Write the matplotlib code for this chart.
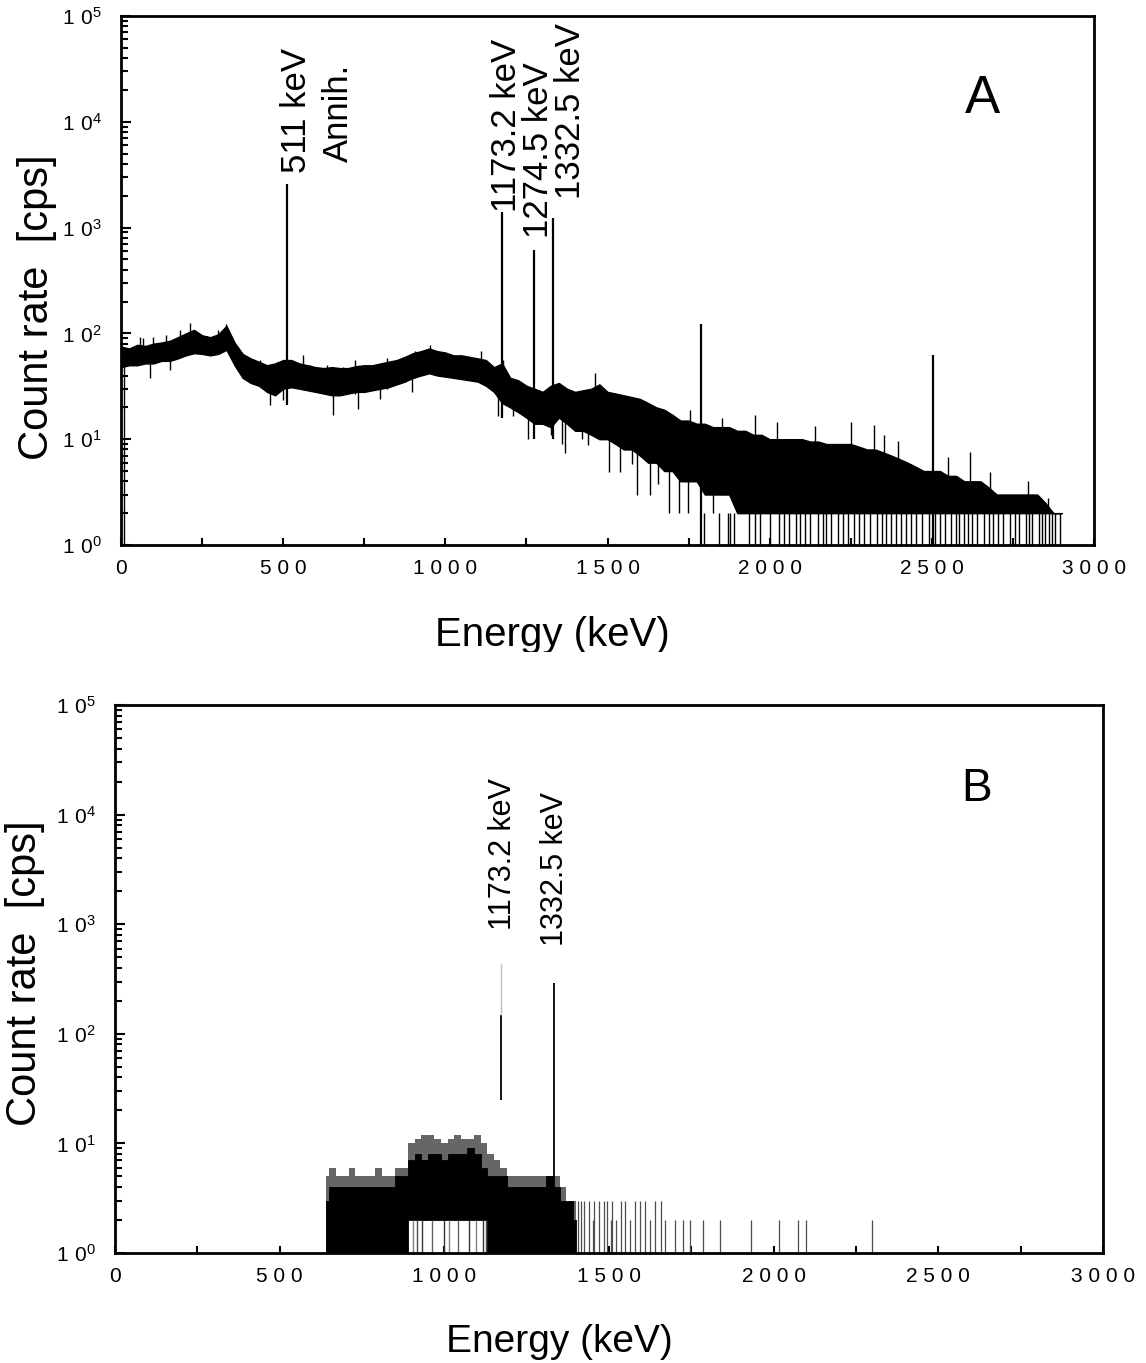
import numpy as np
import matplotlib.pyplot as plt
from matplotlib.transforms import Bbox, TransformedBbox
from matplotlib.ticker import LogLocator, NullFormatter

plt.rcParams['font.family'] = ['Liberation Sans', 'DejaVu Sans']
plt.rcParams['mathtext.fontset'] = 'custom'
plt.rcParams['mathtext.rm'] = 'Liberation Sans'

# ---- panel A : spectrum band (read every 25 keV) ----
A_energy = np.arange(0, 2901, 25)
A_upper = [75, 72, 78, 76, 80, 82, 85, 92, 100, 108, 96, 92, 98, 118, 82, 64,
           58, 54, 50, 52, 56, 56, 52, 50, 48, 47, 48, 47, 47, 49, 50, 50,
           52, 54, 56, 60, 65, 68, 72, 68, 66, 62, 62, 60, 58, 56, 48, 52,
           38, 36, 32, 30, 28, 32, 34, 30, 28, 29, 30, 33, 28, 27, 26, 25,
           24, 22, 20, 19, 17, 15, 15, 14, 14, 13, 13, 13, 12, 12, 11, 11,
           10, 10, 10, 10, 10, 9.5, 9.5, 9, 9, 9, 9, 8.5, 8, 8, 7.5, 7,
           6.5, 6, 5.5, 5, 5, 5, 4.5, 4.5, 4, 4, 4, 3.5, 3, 3, 3, 3,
           3, 3, 2.5, 2, 2]
A_lower = [48, 50, 50, 52, 52, 55, 55, 58, 62, 65, 64, 62, 64, 70, 50, 38,
           34, 32, 28, 26, 30, 31, 30, 29, 28, 27, 26, 26, 27, 28, 28, 29,
           30, 31, 33, 35, 38, 40, 42, 40, 39, 38, 37, 36, 35, 32, 28, 22,
           20, 18, 16, 14, 14, 13, 16, 14, 12, 12, 11, 10, 10, 9, 8, 8,
           7, 6, 6, 5, 5, 4, 4, 4, 3, 3, 3, 3, 2, 2, 2, 2,
           2, 2, 2, 2, 2, 2, 2, 2, 2, 2, 2, 2, 2, 2, 2, 2,
           2, 2, 2, 2, 2, 2, 2, 2, 2, 2, 2, 2, 2, 2, 2, 2,
           2, 2, 2, 2, 2]

# gamma lines in A (energy, bottom, top)
A_peak_E = [511, 1173.2, 1274.5, 1332.5, 1787, 2505]
A_peak_low = [21, 16, 10, 10, 1, 1]
A_peak_top = [2600, 1400, 610, 1220, 124, 63]

# single channels sticking out above the band
A_spike_E = [60, 69, 100, 140, 182, 213, 264, 300, 324, 377, 429, 480, 526,
             560, 583, 634, 686, 720, 747, 819, 907, 953, 1045, 1097, 1110,
             1179, 1462, 1509, 1615, 1696, 1755, 1854, 1954, 2024, 2141, 2252,
             2322, 2351, 2395, 2550, 2618, 2679, 2796, 2858]
A_spike_base = [55, 55, 55, 60, 65, 70, 65, 70, 75, 40, 32, 30, 31,
                30, 30, 27, 26, 27, 28, 30, 38, 42, 38, 36, 35,
                25, 12, 10, 7, 5, 4, 3, 2, 2, 2, 2,
                2, 2, 2, 2, 2, 2, 2, 2]
A_spike_top = [92, 90, 93, 96, 108, 126, 94, 108, 124, 62.5, 56, 54, 54,
               62, 50, 50, 48, 56, 50, 58, 68.6, 78, 62.5, 58, 68,
               56, 42, 28, 23, 17, 19, 16, 17, 14.5, 13.4, 14.5,
               13.5, 10.9, 9.6, 6.8, 7.5, 4.9, 4, 2.8]

# single channels dropping below the band
A_dip_E = [8, 90, 151, 459, 500, 653, 732, 800, 896, 1163, 1210, 1255, 1272,
           1325, 1360, 1369, 1420, 1439, 1504, 1539, 1574, 1590, 1632, 1656,
           1690, 1720, 1749, 1825]
A_dip_low = [1, 38, 45, 21, 23.5, 17, 19.5, 24, 28, 16.5, 16.5, 10, 15,
             11, 9, 7.4, 10, 8.8, 4.9, 4.9, 5.8, 3, 3, 3.8,
             2, 2, 2, 2]
A_dip_top = [50, 52, 56, 30, 32, 30, 30, 32, 38, 30, 22, 20, 20,
             20, 20, 15, 15, 15, 12, 10, 10, 8, 8, 8,
             6, 6, 5, 4]

# channels with zero counts in the tail (drawn down to the axis)
A_zero_E = [1796, 1845, 1870, 1878, 1890, 1936, 1955, 1971, 2000, 2030, 2045,
            2060, 2080, 2095, 2110, 2125, 2150, 2165, 2175, 2190, 2210, 2225,
            2240, 2260, 2275, 2290, 2310, 2330, 2345, 2360, 2375, 2390, 2405,
            2420, 2435, 2450, 2470, 2490, 2510, 2525, 2540, 2560, 2575, 2585,
            2600, 2610, 2625, 2640, 2660, 2675, 2690, 2705, 2720, 2740, 2755,
            2770, 2790, 2800, 2810, 2830, 2840, 2850, 2860, 2870, 2880, 2895]

# ---- panel B : coincidence spectrum (read every 20 keV) ----
B_energy = np.arange(640, 1401, 20)
B_core = [3, 4, 4, 4, 4, 4, 4, 4, 4, 4, 4, 5, 5, 7, 8, 7, 8, 8, 7, 8,
          8, 8, 9, 8, 6, 5, 5, 5, 4, 4, 4, 4, 4, 4, 5, 4, 3, 3, 2]
B_fuzz = [5, 6, 5, 5, 6, 5, 5, 5, 6, 5, 5, 6, 6, 10, 11, 12, 12, 11, 10, 11,
          12, 11, 11, 12, 10, 8, 7, 6, 5, 5, 5, 5, 5, 5, 5, 5, 4, 3, 3]
B_lower = [1, 1, 1, 1, 1, 1, 1, 1, 1, 1, 1, 1, 1, 2, 2, 2, 2, 2, 2, 2,
           2, 2, 2, 2, 2, 1, 1, 1, 1, 1, 1, 1, 1, 1, 1, 1, 1, 1, 1]

# channels reaching down to the axis inside the 900-1130 keV gap
B_zero_E = [905, 918, 932, 962, 1000, 1013, 1040, 1074, 1095, 1116, 1128]
B_zero_color = ['0.5', '0.3', '0.2', '0.4', '0.2', '0.5', '0.4', '0.2', '0.5',
                '0.2', '0.3']

B_sparse_E = [1405, 1415, 1425, 1440, 1450, 1455, 1470, 1485, 1495, 1505, 1510,
              1520, 1535, 1550, 1565, 1580, 1595, 1610, 1625, 1640, 1658, 1670,
              1700, 1725, 1745, 1785, 1838, 1931, 2015, 2075, 2097, 2299]
B_sparse_top = [3, 3, 3, 3, 2, 3, 3, 3, 3, 2, 3, 2, 3, 3, 2, 3, 3, 3, 2, 3,
                3, 2, 2, 2, 2, 2, 2, 2, 2, 2, 2, 2]

B_peak_E = [1173.2, 1332.5]
B_peak_low = [25, 1]
B_peak_top = [150, 290]
B_faint_top = 430

xticks = [0, 500, 1000, 1500, 2000, 2500, 3000]
xtick_labels = [' '.join(str(v)) for v in xticks]
decades = [1, 10, 100, 1000, 10000, 100000]
dec_labels = [r'$\mathregular{1\ 0^{%d}}$' % k for k in range(6)]

fig = plt.figure(figsize=(11.46, 13.63), dpi=100)
axA = fig.add_axes([121 / 1146, 1 - 545 / 1363, 973 / 1146, 529 / 1363])
axB = fig.add_axes([115 / 1146, 1 - 1253 / 1363, 988 / 1146, 548 / 1363])

for ax in (axA, axB):
    ax.set_yscale('log')
    ax.set_xlim(0, 3000)
    ax.set_ylim(1, 1e5)
    ax.set_xticks(xticks)
    ax.set_xticklabels(xtick_labels)
    ax.set_xticks(np.arange(250, 3000, 500), minor=True)
    ax.set_yticks(decades)
    ax.set_yticklabels(dec_labels)
    ax.yaxis.set_minor_locator(LogLocator(base=10, subs=np.arange(2, 10)))
    ax.yaxis.set_minor_formatter(NullFormatter())
    ax.tick_params(which='both', direction='in', top=False, right=False,
                   width=1.5, labelsize=15)
    ax.tick_params(axis='x', which='both', length=5, pad=10)
    ax.tick_params(axis='y', which='major', length=7, pad=14)
    ax.tick_params(axis='y', which='minor', length=5)
    for s in ax.spines.values():
        s.set_linewidth(2.0)

axA.set_ylabel('Count rate  [cps]', fontsize=30)
axA.yaxis.set_label_coords(-0.066, 0.45)
axB.set_ylabel('Count rate  [cps]', fontsize=30)
axB.yaxis.set_label_coords(-0.071, 0.51)

# panel A
axA.fill_between(A_energy, A_lower, A_upper, color='black',
                 edgecolor='black', lw=1.0)
axA.vlines(A_zero_E, 1, 2, color='black', lw=1.0)
axA.vlines(A_peak_E, A_peak_low, A_peak_top, color='black', lw=1.6)
axA.vlines(A_spike_E, A_spike_base, A_spike_top, color='black', lw=1.0)
axA.vlines(A_dip_E, A_dip_low, A_dip_top, color='black', lw=1.0)

axA.text(541, 3250, '511 keV', rotation=90, ha='center', va='bottom', fontsize=25)
axA.text(671, 4200, 'Annih.', rotation=90, ha='center', va='bottom', fontsize=25)
axA.text(1190, 1410, '1173.2 keV', rotation=90, ha='center', va='bottom', fontsize=25)
axA.text(1288, 800, '1274.5 keV', rotation=90, ha='center', va='bottom', fontsize=25)
axA.text(1385, 1860, '1332.5 keV', rotation=90, ha='center', va='bottom', fontsize=25)
axA.text(2655, 1.66e4, 'A', ha='center', va='center', fontsize=38)

# panel B
axB.fill_between(B_energy, B_lower, B_fuzz, step='mid', color='0.4', lw=0)
axB.fill_between(B_energy, B_lower, B_core, step='mid', color='black',
                 edgecolor='black', lw=0.6)
axB.vlines(B_zero_E, 1, 2, colors=B_zero_color, lw=1.0)
axB.vlines(B_sparse_E, 1, B_sparse_top, color='0.3', lw=0.9)
axB.vlines(B_peak_E, B_peak_low, B_peak_top, color='black', lw=1.3)
axB.vlines(B_peak_E[0], B_peak_top[0], B_faint_top, color='0.75', lw=1.0)

axB.text(1177, 890, '1173.2 keV', rotation=90, ha='center', va='bottom', fontsize=22)
axB.text(1337, 630, '1332.5 keV', rotation=90, ha='center', va='bottom', fontsize=22)
axB.text(2616, 1.7e4, 'B', ha='center', va='center', fontsize=33)

# x labels (the upper one is cut off by panel B in the original)
tA = fig.text(552 / 1146, 1 - 646 / 1363, 'Energy (keV)', ha='center',
              va='baseline', fontsize=29)
tA.set_clip_box(TransformedBbox(Bbox([[0, 1 - 652 / 1363], [1, 1]]),
                                fig.transFigure))
tA.set_clip_on(True)
fig.text(559 / 1146, 1 - 1352 / 1363, 'Energy (keV)', ha='center',
         va='baseline', fontsize=28)

fig.savefig('out.png', dpi=100)
